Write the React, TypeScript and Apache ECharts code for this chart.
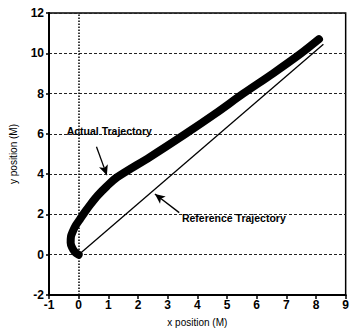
import React, { useEffect, useRef } from "react";
import * as echarts from "echarts";

const xTicks = [-1, 0, 1, 2, 3, 4, 5, 6, 7, 8, 9];
const yTicks = [-2, 0, 2, 4, 6, 8, 10, 12];

const actualX = [0, -0.12, -0.22, -0.27, -0.26, -0.2, -0.1, 0.04, 0.2, 0.4, 0.65, 0.95, 1.3, 2.4, 3.6, 4.6, 5.55, 6.55, 7.5, 8.1];
const actualY = [0, 0.12, 0.35, 0.6, 0.9, 1.15, 1.45, 1.75, 2.1, 2.5, 2.95, 3.4, 3.85, 4.85, 6.0, 7.0, 8.0, 9.0, 10.0, 10.7];

const refX = [0, 8.25];
const refY = [0, 10.45];

const annotationTexts = ["Actual Trajectory", "Reference Trajectory"];
const annotationX = [1.03, 5.23];
const annotationY = [6.12, 1.82];
const arrowFromX = [0.6, 3.39];
const arrowFromY = [5.36, 2.09];
const arrowToX = [0.95, 2.57];
const arrowToY = [3.95, 3.01];

const FONT = '"Liberation Sans", Arial, sans-serif';

export default function App() {
  const ref = useRef<HTMLDivElement>(null);
  useEffect(() => {
    document.body.style.margin = "0";
    const chart = echarts.init(ref.current!, null, { renderer: "svg" });
    const zip = (xs: number[], ys: number[]) => xs.map((x, i) => [x, ys[i]]);
    chart.setOption({
      animation: false,
      backgroundColor: "#ffffff",
      grid: {
        left: 41,
        right: 2,
        top: 13,
        bottom: 39,
        show: true,
        borderColor: "#000",
        borderWidth: 1.5,
      },
      xAxis: {
        type: "value",
        min: xTicks[0],
        max: xTicks[xTicks.length - 1],
        interval: 1,
        name: "x position (M)",
        nameLocation: "middle",
        nameGap: 22,
        nameTextStyle: { fontFamily: FONT, fontSize: 10, color: "#000" },
        axisLine: { show: true, onZero: false, lineStyle: { color: "#000", width: 2 } },
        axisTick: { show: true, length: 4, lineStyle: { color: "#000", width: 1.5 } },
        axisLabel: { margin: 4, fontFamily: FONT, fontSize: 12, fontWeight: "bold", color: "#000" },
        splitLine: { show: false },
      },
      yAxis: {
        type: "value",
        min: yTicks[0],
        max: yTicks[yTicks.length - 1],
        interval: 2,
        name: "y position (M)",
        nameLocation: "middle",
        nameGap: 31,
        nameRotate: 90,
        nameTextStyle: { fontFamily: FONT, fontSize: 10, color: "#000" },
        axisLine: { show: true, onZero: false, lineStyle: { color: "#000", width: 2 } },
        axisTick: { show: true, length: 3, lineStyle: { color: "#000", width: 1.5 } },
        axisLabel: { margin: 5, fontFamily: FONT, fontSize: 12, fontWeight: "bold", color: "#000" },
        splitLine: { show: true, lineStyle: { color: "#222", width: 1, type: [3, 2] } },
      },
      series: [
        {
          name: "Reference Trajectory",
          type: "line",
          data: zip(refX, refY),
          showSymbol: false,
          lineStyle: { color: "#000", width: 1.3 },
          markLine: {
            silent: true,
            symbol: ["none", "none"],
            label: { show: false },
            lineStyle: { color: "#000", width: 1.5, type: [1.5, 1.5] },
            data: [{ xAxis: 0 }],
          },
        },
        {
          name: "Actual Trajectory",
          type: "line",
          data: zip(actualX, actualY),
          showSymbol: false,
          smooth: 0.3,
          lineStyle: { color: "#000", width: 8, cap: "round", join: "round" },
          markLine: {
            silent: true,
            symbol: ["none", "arrow"],
            symbolSize: [7, 10],
            label: { show: false },
            lineStyle: { color: "#000", width: 1.3, type: "solid" },
            data: arrowFromX.map((x, i) => [
              { coord: [x, arrowFromY[i]] },
              { coord: [arrowToX[i], arrowToY[i]] },
            ]),
          },
          markPoint: {
            silent: true,
            symbol: "circle",
            symbolSize: 0,
            label: {
              show: true,
              position: "inside",
              fontFamily: FONT,
              fontSize: 10.5,
              fontWeight: "bold",
              color: "#000",
              formatter: (p: any) => p.name,
            },
            data: annotationTexts.map((t, i) => ({
              name: t,
              coord: [annotationX[i], annotationY[i]],
            })),
          },
        },
      ],
    });
    return () => chart.dispose();
  }, []);
  return <div ref={ref} style={{ width: 352, height: 334 }} />;
}
